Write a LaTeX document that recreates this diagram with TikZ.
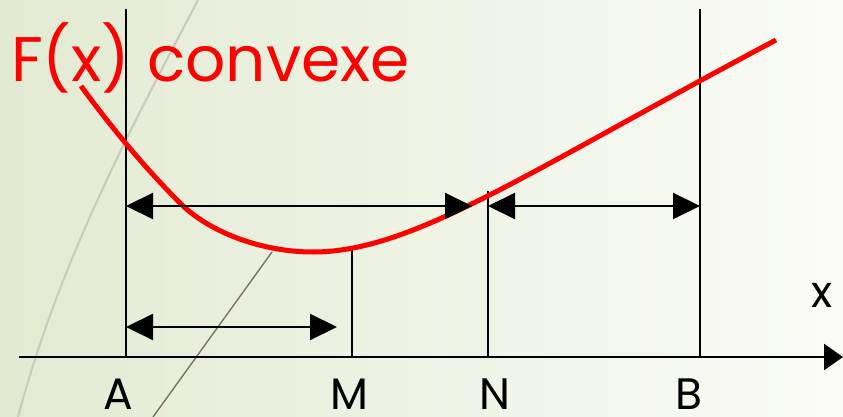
\documentclass[tikz,border=0pt]{standalone}
\usepackage{fontspec}
\setmainfont{Poppins}
\usetikzlibrary{arrows.meta}
\definecolor{bgleft}{HTML}{E2EAD2}
\definecolor{bgmid}{HTML}{EEF3E4}
\definecolor{bgright}{HTML}{FAFBF7}
\definecolor{arcgray}{HTML}{C9C9BD}
\definecolor{darkline}{HTML}{7A7262}
\tikzset{
  guide/.style={black, line width=2pt},
  dimarrow/.style={black, line width=2.2pt, {Triangle[length=27pt,width=26pt]}-{Triangle[length=27pt,width=26pt]}},
  axisline/.style={black, line width=2.5pt, -{Triangle[length=19pt,width=26pt]}},
  curve/.style={red, line width=5pt},
  lab/.style={font=\fontsize{44}{44}\selectfont, anchor=base, inner sep=0pt, text depth=0pt},
  title/.style={red, font=\fontsize{63}{63}\selectfont, anchor=base west, inner sep=0pt}
}
\begin{document}
\begin{tikzpicture}[x=1pt,y=-1pt]
\useasboundingbox (0,0) rectangle (843,417);
\shade[left color=bgleft, right color=bgright, middle color=bgmid] (0,0) rectangle (843,417);
% decorative lines
\draw[arcgray, line width=2pt] (198,0) .. controls (130,130) and (60,260) .. (18,417);
\draw[darkline, line width=1.4pt] (153,417) -- (272,252);
% coordinates
\coordinate (Atop) at (126,9);
\coordinate (Abot) at (126,357);
\coordinate (Btop) at (700,9);
\coordinate (Bbot) at (700,357);
\coordinate (Mtop) at (352,250);
\coordinate (Mbot) at (352,357);
\coordinate (Ntop) at (488,191);
\coordinate (Nbot) at (488,357);
\coordinate (ax0) at (19,357);
\coordinate (ax1) at (843,357);
\coordinate (u0) at (126,206);
\coordinate (u1) at (472,206);
\coordinate (v0) at (488,206);
\coordinate (v1) at (700,206);
\coordinate (w0) at (126,327);
\coordinate (w1) at (337,327);
\coordinate (c0) at (81,86);
\coordinate (c1) at (180,203);
\coordinate (c2) at (313,252);
\coordinate (c3) at (776,40);
% guides
\draw[guide] (Atop) -- (Abot);
\draw[guide] (Btop) -- (Bbot);
\draw[guide] (Mtop) -- (Mbot);
\draw[guide] (Ntop) -- (Nbot);
\draw[axisline] (ax0) -- (ax1);
% red curve
\draw[curve] (c0) .. controls (114,131) and (147,170) .. (c1)
  .. controls (210,233) and (263,252) .. (c2)
  .. controls (413,252) and (526,172.5) .. (c3);
% dimension arrows
\draw[dimarrow] (u0) -- (u1);
\draw[dimarrow] (v0) -- (v1);
\draw[dimarrow] (w0) -- (w1);
% labels
\node[title] (title) at (11,82) {F(x) convexe};
\node[lab] (labA) at (118,409) {A};
\node[lab] (labM) at (349,409) {M};
\node[lab] (labN) at (495,409) {N};
\node[lab] (labB) at (689,409) {B};
\node[lab] (labx) at (822,307) {x};
\end{tikzpicture}
\end{document}
